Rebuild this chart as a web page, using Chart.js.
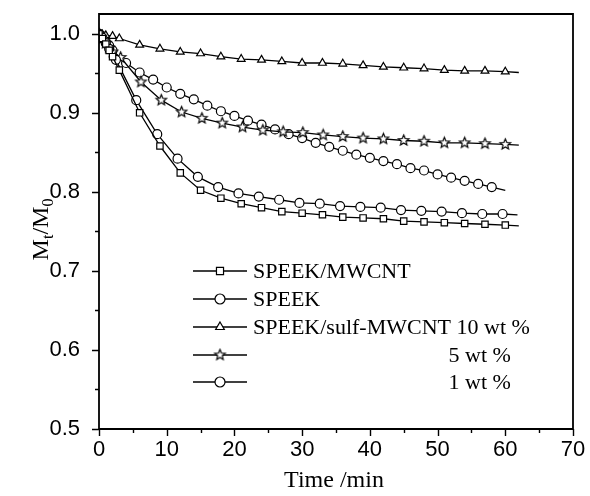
<!DOCTYPE html>
<html>
<head>
<meta charset="utf-8">
<script src="https://cdn.jsdelivr.net/npm/chart.js@4.4.1/dist/chart.umd.min.js"></script>
<style>
  html, body { margin: 0; padding: 0; background: #fff; }
  #wrap { width: 590px; height: 496px; }
</style>
</head>
<body>
<div id="wrap"><canvas id="chart" width="590" height="496"></canvas></div>
<script>
// ========================================
// DATA
// ========================================
const xTicks = [0, 10, 20, 30, 40, 50, 60, 70];
const yTicks = [0.5, 0.6, 0.7, 0.8, 0.9, 1.0];

const labels = ['SPEEK/MWCNT', 'SPEEK', 'SPEEK/sulf-MWCNT 10 wt %', '5 wt %', '1 wt %'];

// SPEEK/MWCNT (squares)
const mwcntTime = [0, 0.5, 1, 1.5, 2, 3, 6, 9, 12, 15, 18, 21, 24, 27, 30, 33, 36, 39, 42, 45, 48, 51, 54, 57, 60, 62];
const mwcntVal  = [1.0, 0.994, 0.987, 0.979, 0.971, 0.954, 0.900, 0.858, 0.824, 0.802, 0.792, 0.785, 0.780, 0.775, 0.773, 0.771, 0.768, 0.767, 0.766, 0.763, 0.762, 0.761, 0.760, 0.759, 0.758, 0.757];

// SPEEK (circles, lower)
const speekTime = [0, 0.5, 1, 1.5, 2.5, 5.5, 8.6, 11.6, 14.6, 17.6, 20.6, 23.6, 26.6, 29.6, 32.6, 35.6, 38.6, 41.6, 44.6, 47.6, 50.6, 53.6, 56.6, 59.6, 61.8];
const speekVal  = [1.0, 0.995, 0.988, 0.981, 0.967, 0.916, 0.873, 0.842, 0.819, 0.806, 0.798, 0.794, 0.790, 0.786, 0.785, 0.782, 0.781, 0.780, 0.777, 0.776, 0.775, 0.773, 0.772, 0.772, 0.771];

// sulf-MWCNT 10 wt % (triangles)
const s10Time = [0, 0.5, 1, 2, 3, 6, 9, 12, 15, 18, 21, 24, 27, 30, 33, 36, 39, 42, 45, 48, 51, 54, 57, 60, 62];
const s10Val  = [1.0, 0.999, 0.998, 0.997, 0.994, 0.986, 0.981, 0.977, 0.975, 0.971, 0.968, 0.967, 0.965, 0.963, 0.963, 0.962, 0.960, 0.958, 0.957, 0.956, 0.954, 0.953, 0.953, 0.952, 0.951];

// sulf-MWCNT 5 wt % (stars)
const s5Time = [0, 0.5, 1, 1.5, 2, 3.2, 6.2, 9.2, 12.2, 15.2, 18.2, 21.2, 24.2, 27.2, 30.1, 33.1, 36, 39, 42, 45, 48, 51, 54, 57, 60, 62];
const s5Val  = [1.0, 0.994, 0.988, 0.982, 0.977, 0.970, 0.939, 0.916, 0.901, 0.893, 0.887, 0.882, 0.878, 0.876, 0.875, 0.872, 0.870, 0.868, 0.867, 0.865, 0.864, 0.862, 0.862, 0.861, 0.860, 0.859];

// sulf-MWCNT 1 wt % (circles, upper)
const s1Time = [0, 0.5, 1, 1.5, 2, 4, 6, 8, 10, 12, 14, 16, 18, 20, 22, 24, 26, 28, 30, 32, 34, 36, 38, 40, 42, 44, 46, 48, 50, 52, 54, 56, 58, 60];
const s1Val  = [1.0, 0.995, 0.990, 0.985, 0.979, 0.963, 0.951, 0.942, 0.932, 0.924, 0.917, 0.909, 0.902, 0.896, 0.890, 0.885, 0.879, 0.873, 0.868, 0.862, 0.857, 0.852, 0.847, 0.843, 0.839, 0.835, 0.830, 0.827, 0.822, 0.818, 0.814, 0.810, 0.806, 0.802];

// ========================================
// HELPERS
// ========================================
function pares(xs, ys) {
    return xs.map((x, i) => ({ x: x, y: ys[i] }));
}

function makeStar(r) {
    const c = document.createElement('canvas');
    const s = Math.ceil(r * 2 + 4);
    c.width = s;
    c.height = s;
    const g = c.getContext('2d');
    g.beginPath();
    for (let i = 0; i < 10; i++) {
        const rad = i % 2 === 0 ? r : r * 0.45;
        const a = -Math.PI / 2 + i * Math.PI / 5;
        const px = s / 2 + rad * Math.cos(a);
        const py = s / 2 + rad * Math.sin(a);
        if (i === 0) g.moveTo(px, py); else g.lineTo(px, py);
    }
    g.closePath();
    g.fillStyle = '#fff';
    g.fill();
    g.lineWidth = 1.2;
    g.strokeStyle = '#000';
    g.stroke();
    return c;
}

const starImg = makeStar(5.5);
const RADIUS = 4.5;

// last point of each series carries the line only, no marker
function raioPonto(ctx) {
    return ctx.dataIndex === ctx.dataset.data.length - 1 ? 0 : RADIUS;
}

function serie(label, xs, ys, style) {
    return {
        label: label,
        data: pares(xs, ys),
        pointStyle: style,
        borderColor: '#000',
        backgroundColor: '#fff',
        pointBackgroundColor: '#fff',
        pointBorderColor: '#000',
        pointBorderWidth: 1.2,
        borderWidth: 1.3,
        pointRadius: raioPonto,
        pointHoverRadius: raioPonto,
        tension: 0,
        fill: false
    };
}

const datasets = [
    serie(labels[0], mwcntTime, mwcntVal, 'rect'),
    serie(labels[1], speekTime, speekVal, 'circle'),
    serie(labels[2], s10Time, s10Val, 'triangle'),
    serie(labels[3], s5Time, s5Val, starImg),
    serie(labels[4], s1Time, s1Val, 'circle')
];

// ========================================
// PLUGINS: frame, ticks, titles, legend
// ========================================
const framePlugin = {
    id: 'frame',
    afterDraw(chart) {
        const { ctx, chartArea: a, scales: { x, y } } = chart;
        ctx.save();
        ctx.strokeStyle = '#000';
        ctx.lineWidth = 1.8;
        ctx.beginPath();
        ctx.moveTo(a.left, a.top);
        ctx.lineTo(a.right, a.top);
        ctx.lineTo(a.right, a.bottom);
        ctx.lineTo(a.left, a.bottom);
        ctx.closePath();
        ctx.stroke();

        ctx.lineWidth = 1.4;
        ctx.beginPath();
        for (let t = 0; t <= 70; t += 5) {
            const px = Math.round(x.getPixelForValue(t)) + 0.5;
            const len = t % 10 === 0 ? 7 : 4;
            ctx.moveTo(px, a.bottom);
            ctx.lineTo(px, a.bottom + len);
        }
        for (let i = 0; i <= 10; i++) {
            const v = 0.5 + i * 0.05;
            const py = Math.round(y.getPixelForValue(v)) + 0.5;
            const len = i % 2 === 0 ? 7 : 4;
            ctx.moveTo(a.left, py);
            ctx.lineTo(a.left - len, py);
        }
        ctx.stroke();

        // axis titles
        ctx.fillStyle = '#000';
        ctx.font = '24px "Liberation Serif", "Times New Roman", serif';
        ctx.textAlign = 'center';
        ctx.textBaseline = 'alphabetic';
        ctx.fillText('Time /min', (a.left + a.right) / 2 - 2, 487);

        // M_t/M_0, rotated
        ctx.translate(48, (a.top + a.bottom) / 2 + 8);
        ctx.rotate(-Math.PI / 2);
        const big = '24px "Liberation Serif", "Times New Roman", serif';
        const small = '16px "Liberation Serif", "Times New Roman", serif';
        const partes = [['M', big, 0], ['t', small, 5], ['/M', big, 0], ['0', small, 5]];
        let w = 0;
        partes.forEach(p => { ctx.font = p[1]; w += ctx.measureText(p[0]).width; });
        let cx = -w / 2;
        ctx.textAlign = 'left';
        partes.forEach(p => {
            ctx.font = p[1];
            ctx.fillText(p[0], cx, p[2]);
            cx += ctx.measureText(p[0]).width;
        });
        ctx.restore();
    }
};

const legendPlugin = {
    id: 'legendaInterna',
    afterDraw(chart) {
        const ctx = chart.ctx;
        const rows = [271, 299, 327, 355, 382];
        const x0 = 193, x1 = 247, xm = 220, xt = 253;
        ctx.save();
        ctx.font = '22px "Liberation Serif", "Times New Roman", serif';
        const longRight = xt + ctx.measureText(labels[2]).width;
        chart.data.datasets.forEach((ds, i) => {
            const yy = rows[i];
            ctx.strokeStyle = '#000';
            ctx.lineWidth = 1.3;
            ctx.beginPath();
            ctx.moveTo(x0, yy);
            ctx.lineTo(x1, yy);
            ctx.stroke();
            ctx.fillStyle = '#fff';
            ctx.strokeStyle = '#000';
            ctx.lineWidth = 1.2;
            Chart.helpers.drawPoint(ctx, {
                pointStyle: ds.pointStyle,
                radius: 5,
                borderWidth: 1.2,
                rotation: 0
            }, xm, yy);
            ctx.fillStyle = '#000';
            ctx.textBaseline = 'middle';
            if (i < 3) {
                ctx.textAlign = 'left';
                ctx.fillText(ds.label, xt, yy + 1);
            } else {
                ctx.textAlign = 'right';
                ctx.fillText(ds.label, longRight - 19, yy + 1);
            }
        });
        ctx.restore();
    }
};

// ========================================
// CHART
// ========================================
const fonteTicks = { family: '"Liberation Sans", Arial, sans-serif', size: 22 };

new Chart(document.getElementById('chart'), {
    type: 'line',
    data: { datasets: datasets },
    options: {
        responsive: false,
        animation: false,
        events: [],
        layout: { padding: { left: 0, right: 17, top: 14, bottom: 0 } },
        plugins: {
            legend: { display: false },
            tooltip: { enabled: false }
        },
        scales: {
            x: {
                type: 'linear',
                min: 0,
                max: 70,
                grid: { display: false, drawTicks: false },
                border: { display: false },
                afterBuildTicks(scale) {
                    scale.ticks = xTicks.map(v => ({ value: v }));
                },
                afterFit(scale) {
                    scale.height = 67;
                    scale.paddingLeft = 0;
                    scale.paddingRight = 0;
                },
                ticks: {
                    color: '#000',
                    font: fonteTicks,
                    padding: 8,
                    maxRotation: 0,
                    autoSkip: false,
                    callback: v => v
                }
            },
            y: {
                type: 'linear',
                min: 0.5,
                max: 1.025,
                grid: { display: false, drawTicks: false },
                border: { display: false },
                afterBuildTicks(scale) {
                    scale.ticks = yTicks.map(v => ({ value: v }));
                },
                afterFit(scale) {
                    scale.width = 99;
                    scale.paddingTop = 0;
                    scale.paddingBottom = 0;
                },
                ticks: {
                    color: '#000',
                    font: fonteTicks,
                    padding: 19,
                    autoSkip: false,
                    callback: v => Number(v).toFixed(1)
                }
            }
        }
    },
    plugins: [framePlugin, legendPlugin]
});
</script>
</body>
</html>
